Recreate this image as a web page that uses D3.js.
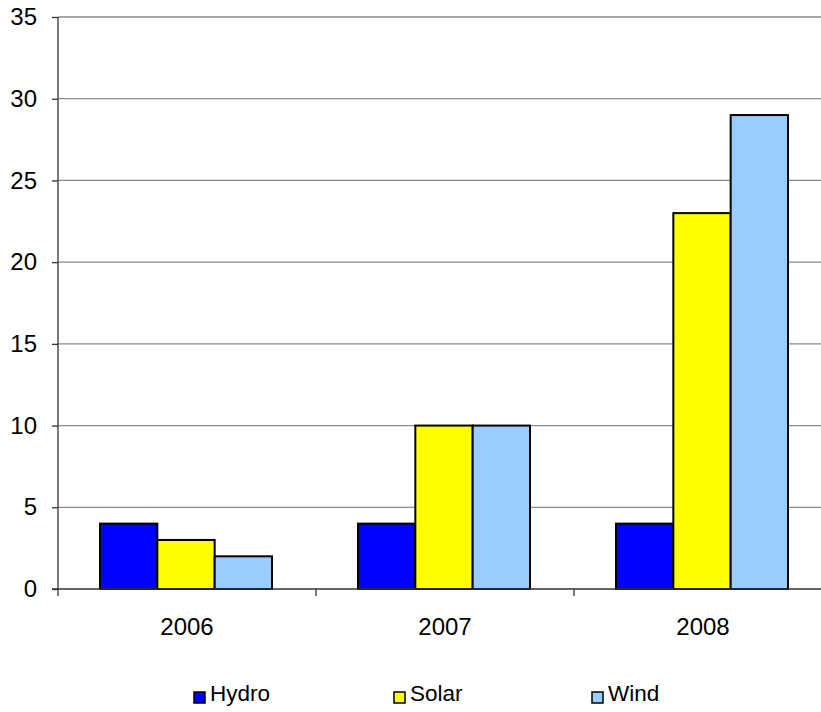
<!DOCTYPE html>
<html>
<head>
<meta charset="utf-8">
<script src="https://cdn.jsdelivr.net/npm/d3@7"></script>
<style>
  html, body { margin: 0; padding: 0; background: #fff; overflow: hidden; }
  svg { display: block; font-family: "Liberation Sans", Arial, sans-serif; }
</style>
</head>
<body>
<svg id="chart" width="821" height="712"></svg>
<script>
// Data
const years = ["2006", "2007", "2008"];
const seriesNames = ["Hydro", "Solar", "Wind"];
const hydro = [4, 4, 4];
const solar = [3, 10, 23];
const wind = [2, 10, 29];
const yTicks = [0, 5, 10, 15, 20, 25, 30, 35];
const colors = ["#0000ff", "#ffff00", "#99ccff"];

const seriesValues = [hydro, solar, wind];

const svg = d3.select("#chart");
const plotLeft = 58, plotTop = 17, plotRight = 832, plotBottom = 589;

const x = d3.scaleBand().domain(years).range([plotLeft, plotRight]).paddingInner(0).paddingOuter(0);
const step = x.bandwidth();
// bars sit in the middle of each category with a gap on both sides
const xs = d3.scaleBand().domain(seriesNames)
  .range([step * 42 / 258, step * 214 / 258]).padding(0);

const y = d3.scaleLinear().domain([0, 35]).range([plotBottom, plotTop]);

// horizontal gridlines
svg.append("g").selectAll("line").data(yTicks.filter(d => d > 0)).join("line")
  .attr("x1", plotLeft).attr("x2", 821)
  .attr("y1", d => y(d)).attr("y2", d => y(d))
  .attr("stroke", "#8a8a8a").attr("stroke-width", 1.3);

// bars
const groups = svg.append("g").selectAll("g").data(years).join("g")
  .attr("transform", d => `translate(${x(d)},0)`);
groups.selectAll("rect")
  .data((yr, i) => seriesNames.map((s, j) => ({ s, j, v: seriesValues[j][i] })))
  .join("rect")
  .attr("x", d => xs(d.s))
  .attr("y", d => y(d.v))
  .attr("width", xs.bandwidth())
  .attr("height", d => y(0) - y(d.v))
  .attr("fill", d => colors[d.j])
  .attr("stroke", "#000").attr("stroke-width", 2);

// y axis
const yAxis = d3.axisLeft(y).tickValues(yTicks).tickSize(6).tickPadding(15);
const gy = svg.append("g").attr("transform", `translate(${plotLeft},0)`).call(yAxis);
gy.select(".domain").attr("stroke", "#333").attr("stroke-width", 1.3).attr("d", `M0,${plotTop}V${plotBottom + 7}`);
gy.selectAll(".tick line").attr("stroke", "#333").attr("stroke-width", 1.3);
gy.selectAll(".tick text").attr("font-size", 24).attr("fill", "#000")
  .attr("font-family", "Liberation Sans, Arial, sans-serif");

// x axis with ticks at category boundaries
svg.append("line").attr("x1", plotLeft - 6).attr("x2", 821)
  .attr("y1", plotBottom).attr("y2", plotBottom)
  .attr("stroke", "#333").attr("stroke-width", 1.3);
svg.append("g").selectAll("line").data(years).join("line")
  .attr("x1", d => x(d) + step).attr("x2", d => x(d) + step)
  .attr("y1", plotBottom).attr("y2", plotBottom + 7)
  .attr("stroke", "#333").attr("stroke-width", 1.3);
svg.append("g").selectAll("text").data(years).join("text")
  .attr("x", d => x(d) + step / 2)
  .attr("y", 635)
  .attr("text-anchor", "middle")
  .attr("font-size", 24)
  .text(d => d);

// legend
const legendX = [194, 394, 592];
const lg = svg.append("g").selectAll("g").data(seriesNames).join("g")
  .attr("transform", (d, i) => `translate(${legendX[i]},692)`);
lg.append("rect").attr("width", 11).attr("height", 11)
  .attr("fill", (d, i) => colors[i]).attr("stroke", "#000").attr("stroke-width", 1.5);
lg.append("text").attr("x", 16).attr("y", 9).attr("font-size", 22.5).text(d => d);
</script>
</body>
</html>
